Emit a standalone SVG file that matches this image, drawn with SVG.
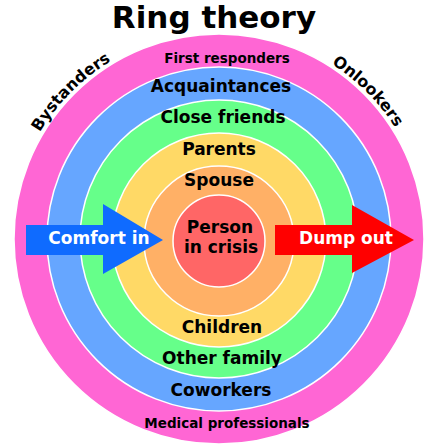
<svg xmlns="http://www.w3.org/2000/svg" width="440" height="446" viewBox="0 0 440 446">
<style>
.ring{stroke:#ffffff;stroke-width:1.5}
.t{font-family:"DejaVu Sans","Liberation Sans",sans-serif;font-weight:bold;text-anchor:middle;fill:#000}
.lbl{font-size:17px}
.sm{font-size:13.5px}
.side{font-size:16px}
.w{fill:#ffffff}
</style>
<defs>
<path id="arcL" d="M 10,240 A 209,209 0 0 1 219,31"/>
<path id="arcR" d="M 219,31 A 209,209 0 0 1 428,240"/>
</defs>
<rect width="440" height="446" fill="#ffffff"/>
<text class="t" x="214" y="28" font-size="31">Ring theory</text>
<g id="rings">
<circle id="ring-pink" class="ring" cx="219" cy="239" r="205" fill="#ff66d4"/>
<circle id="ring-blue" class="ring" cx="219" cy="239" r="172" fill="#66a6ff"/>
<circle id="ring-green" class="ring" cx="219" cy="239" r="139" fill="#66ff8a"/>
<circle id="ring-yellow" class="ring" cx="219" cy="240" r="107" fill="#ffd966"/>
<circle id="ring-orange" class="ring" cx="219" cy="241" r="75" fill="#ffb066"/>
<circle id="ring-red" class="ring" cx="219" cy="241" r="46" fill="#ff6666"/>
</g>
<g id="side-labels">
<text class="t side"><textPath href="#arcL" startOffset="50%">Bystanders</textPath></text>
<text class="t side"><textPath href="#arcR" startOffset="50%">Onlookers</textPath></text>
</g>
<g id="ring-labels">
<text class="t sm" x="227" y="63">First responders</text>
<text class="t lbl" x="221" y="92">Acquaintances</text>
<text class="t lbl" x="223" y="123">Close friends</text>
<text class="t lbl" x="219" y="155">Parents</text>
<text class="t lbl" x="219" y="186">Spouse</text>
<text class="t lbl" x="220" y="233">Person</text>
<text class="t lbl" x="221" y="253">in crisis</text>
<text class="t lbl" x="222" y="333">Children</text>
<text class="t lbl" x="222" y="364">Other family</text>
<text class="t lbl" x="221" y="396">Coworkers</text>
<text class="t sm" x="227" y="428">Medical professionals</text>
</g>
<g id="connectors">
<polygon id="arrow-in" points="26,225 103,225 103,204 163,240 103,274 103,255 26,255" fill="#0f6bff"/>
<polygon id="arrow-out" points="275,225 352,225 352,205 414,240 352,273 352,255 275,255" fill="#ff0000"/>
<text class="t lbl w" x="99" y="244">Comfort in</text>
<text class="t lbl w" x="346" y="244">Dump out</text>
</g>
</svg>
